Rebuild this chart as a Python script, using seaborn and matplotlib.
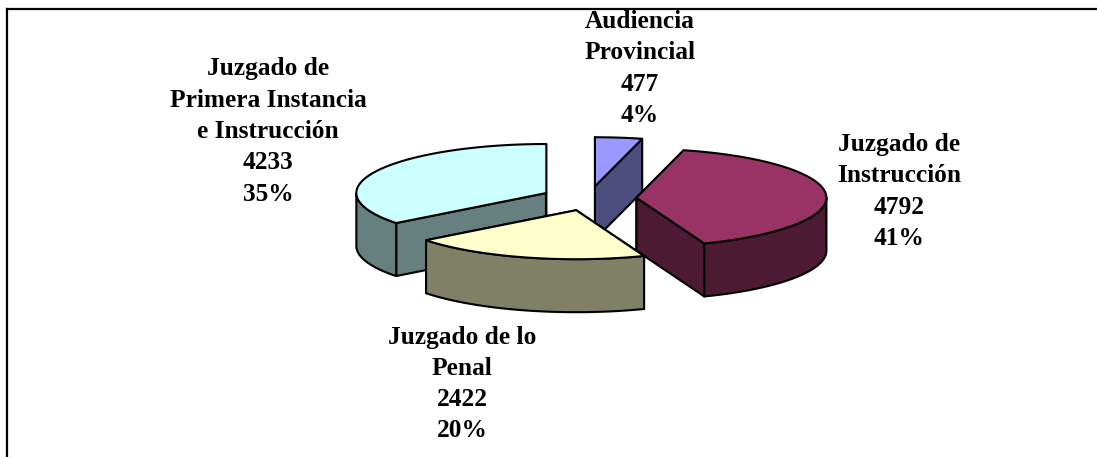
import numpy as np
import seaborn as sns
import matplotlib.pyplot as plt

# values, clockwise from 12 o'clock
juzgados = ["Audiencia\nProvincial", "Juzgado de\nInstrucción", "Juzgado de lo\nPenal",
            "Juzgado de\nPrimera Instancia\ne Instrucción"]
asuntos = [477, 4792, 2422, 4233]
porcentajes = ["4%", "41%", "20%", "35%"]
colores = ["#9999FF", "#993366", "#FFFFCC", "#CCFFFF"]

# label centres in pixels
label_x = [640, 899, 462, 268]
label_y = [68.5, 191.5, 384, 131.5]

# pie shape in pixels
CX, CY = 589, 198.4
RX, RY = 190, 49
DEPTH = 53
EXPLODE = 0.25
LW = 1.5

sns.set_theme(style="white")
plt.rcParams["font.family"] = ["Liberation Serif", "DejaVu Serif"]

fig = plt.figure(figsize=(10.97, 4.57), dpi=100)
ax = fig.add_axes([6.5 / 1097, 0, 1 - 6.5 / 1097, (457 - 9) / 457])
ax.set_xlim(6.5, 1097)
ax.set_ylim(457, 9)
ax.set_xticks([])
ax.set_yticks([])
sns.despine(ax=ax, top=False, right=True, bottom=True)
for side in ["left", "top"]:
    ax.spines[side].set_linewidth(1.6)
    ax.spines[side].set_color("black")

total = sum(asuntos)
spans = np.array(asuntos) / total * 360
ends = 90 - np.cumsum(spans)
starts = ends + spans


def ellipse_xy(cx, cy, t):
    return cx + RX * np.cos(t), cy - RY * np.sin(t)


def draw_slice(i):
    t0, t1 = np.radians(starts[i]), np.radians(ends[i])
    mid = (t0 + t1) / 2
    cx = CX + EXPLODE * RX * np.cos(mid)
    cy = CY - EXPLODE * RY * np.sin(mid)
    dark = tuple(c * 0.5 for c in sns.color_palette([colores[i]])[0])

    t = np.linspace(t0, t1, 200)
    x, y = ellipse_xy(cx, cy, t)

    # radial side faces first, the curved side and the top cover the hidden ones
    for k in [0, -1]:
        ax.fill([cx, x[k], x[k], cx], [cy, y[k], y[k] + DEPTH, cy + DEPTH],
                facecolor=dark, edgecolor="black", lw=LW, joinstyle="round")

    front = np.sin(t) <= 0
    if front.any():
        fx, fy = x[front], y[front]
        ax.fill(np.r_[fx, fx[::-1]], np.r_[fy, fy[::-1] + DEPTH],
                facecolor=dark, edgecolor="black", lw=LW, joinstyle="round")

    ax.fill(np.r_[cx, x], np.r_[cy, y], facecolor=colores[i], edgecolor="black",
            lw=LW, joinstyle="round")


# back to front
for i in [0, 3, 1, 2]:
    draw_slice(i)

for i, nombre in enumerate(juzgados):
    ax.text(label_x[i], label_y[i], f"{nombre}\n{asuntos[i]}\n{porcentajes[i]}",
            ha="center", va="center", ma="center", fontsize=18.3, fontweight="bold",
            color="black", linespacing=1.46, clip_on=True)

fig.savefig("out.png", dpi=100)
